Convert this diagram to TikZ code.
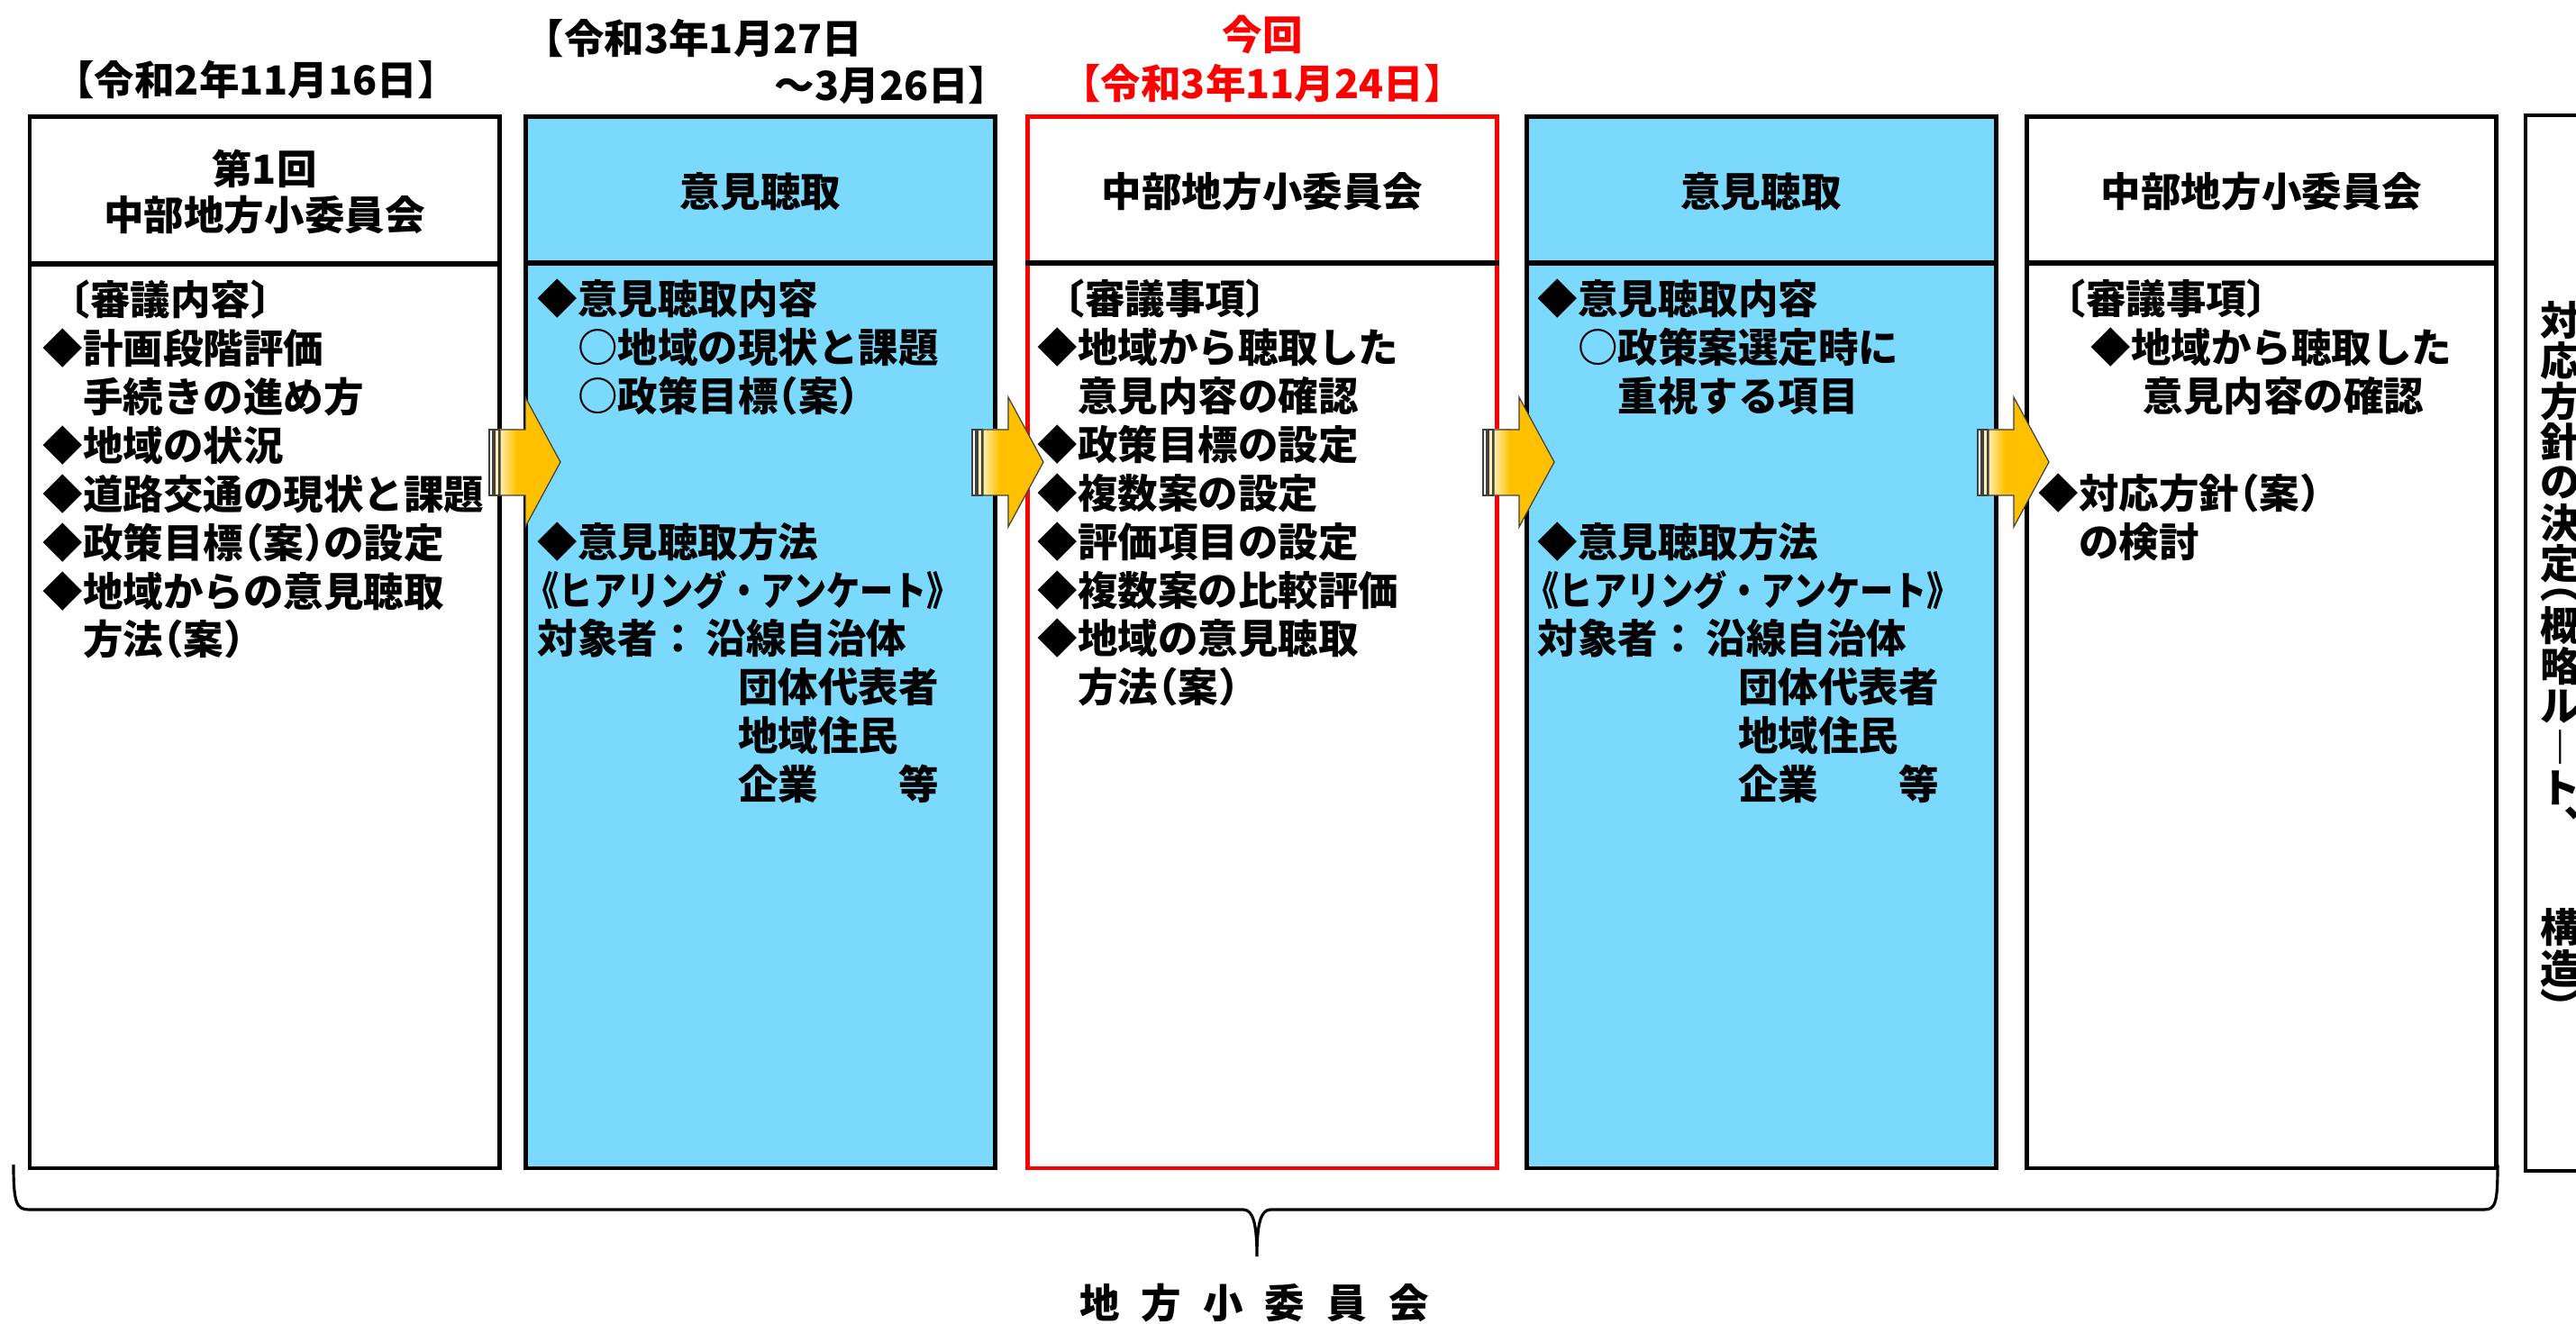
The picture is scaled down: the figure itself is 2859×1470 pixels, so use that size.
\documentclass[tikz,border=0pt]{standalone}
\usepackage{fontspec}
\setmainfont{Noto Sans CJK JP}
\usepackage{graphicx}
\newlength\pxu \setlength\pxu{0.01cm}
\newcommand\jfs{\fontsize{12.66pt}{15.31pt}\selectfont\bfseries}
\newcommand\lp{\makebox[0.5em][r]{（}}
\newcommand\rp{\makebox[0.5em][l]{）}}
\definecolor{skyb}{RGB}{122,217,252}
\definecolor{arrowY}{RGB}{255,192,0}
\definecolor{arrowL}{RGB}{255,238,175}
\definecolor{redc}{RGB}{255,0,0}
\tikzset{
  panel/.style={draw=black, line width=1.42pt, minimum width=521\pxu, minimum height=1167\pxu, inner sep=0pt},
  divider/.style={draw=black, line width=1.7pt},
  txt/.style={inner sep=0pt, font=\jfs},
  body/.style={txt, anchor=base west, align=left, text width=520\pxu},
  arrowline/.style={draw=black!75, line width=0.35pt},
}
\begin{document}
\begin{tikzpicture}[x=0.01cm,y=-0.01cm]
\useasboundingbox (0,0) rectangle (2859,1470);
\clip (0,0) rectangle (2859,1470);
\fill[white] (0,0) rectangle (2859,1470);

% panels
\node[panel, fill=white] (p1) at (293.5,713.5) {};
\node[panel, fill=skyb] (p2) at (844,713.5) {};
\node[panel, fill=white, draw=redc] (p3) at (1401,713.5) {};
\node[panel, fill=skyb] (p4) at (1954.5,713.5) {};
\node[panel, fill=white] (p5) at (2510,713.5) {};
\node[panel, fill=white, minimum width=200\pxu, minimum height=1172\pxu, line width=1.2pt] (p6) at (2903,714) {};

% header dividers
\draw[divider] (p1.west |- 0,293) -- (p1.east |- 0,293);
\draw[divider] (p2.west |- 0,292) -- (p2.east |- 0,292);
\draw[divider] (p3.west |- 0,292) -- (p3.east |- 0,292);
\draw[divider] (p4.west |- 0,292) -- (p4.east |- 0,292);
\draw[divider] (p5.west |- 0,292) -- (p5.east |- 0,292);

% top labels
\node[txt] (d1) at (284,88) {【令和2年11月16日】};
\node[txt, anchor=west] (d2a) at (581,42) {【令和3年1月27日};
\node[txt, anchor=east] (d2b) at (1120,95) {～3月26日】};
\node[txt, text=redc] (now) at (1401,38) {今回};
\node[txt, text=redc] (d3) at (1401,92) {【令和3年11月24日】};

% headers
\node[txt, align=center] (h1) at (293.5,213.5) {第1回\\[-0.8pt]中部地方小委員会};
\node[txt] (h2) at (844,213) {意見聴取};
\node[txt] (h3) at (1401,213) {中部地方小委員会};
\node[txt] (h4) at (1954.5,213) {意見聴取};
\node[txt] (h5) at (2510,213) {中部地方小委員会};

% bodies
\node[body] (t1) at (47,350) {%
\hspace*{8\pxu}〔審議内容〕\\
◆計画段階評価\\
　手続きの進め方\\
◆地域の状況\\
◆道路交通の現状と課題\\
◆政策目標\lp 案\rp の設定\\
◆地域からの意見聴取\\
　方法\lp 案\rp};

\node[body] (t2) at (596,349) {%
◆意見聴取内容\\
　○地域の現状と課題\\
　○政策目標\lp 案\rp\\
\mbox{}\\
\mbox{}\\
◆意見聴取方法\\
\hspace*{-13\pxu}\scalebox{0.836}[1]{《ヒアリング・アンケート》}\\
対象者：\hspace*{9\pxu}沿線自治体\\
　　　　　団体代表者\\
　　　　　地域住民\\
　　　　　企業　　等};

\node[body] (t3) at (1151,349) {%
\hspace*{8\pxu}〔審議事項〕\\
◆地域から聴取した\\
　意見内容の確認\\
◆政策目標の設定\\
◆複数案の設定\\
◆評価項目の設定\\
◆複数案の比較評価\\
◆地域の意見聴取\\
　方法\lp 案\rp};

\node[body] (t4) at (1706,349) {%
◆意見聴取内容\\
　○政策案選定時に\\
　　重視する項目\\
\mbox{}\\
\mbox{}\\
◆意見聴取方法\\
\hspace*{-13\pxu}\scalebox{0.836}[1]{《ヒアリング・アンケート》}\\
対象者：\hspace*{9\pxu}沿線自治体\\
　　　　　団体代表者\\
　　　　　地域住民\\
　　　　　企業　　等};

\node[body] (t5) at (2262,349) {%
\hspace*{8\pxu}〔審議事項〕\\
\hspace*{58\pxu}◆地域から聴取した\\
\hspace*{116\pxu}意見内容の確認\\
\mbox{}\\
◆対応方針\lp 案\rp\\
　の検討};

% vertical text in panel 6
\foreach \c/\yy [count=\i] in {対/356,応/401,方/446,針/491,の/536,決/581,定/626,︵/661,概/695,略/740,ル/785,︱/830,ト/875,︑/915,構/1030,造/1075,︶/1117}
  \node[txt] (v\i) at (2842,\yy) {\c};

% arrows
\foreach \s in {543,1079,1646,2195} {
  \fill[arrowY] (\s+12,477) -- (\s+40,477) -- (\s+40,441) -- (\s+79,513) -- (\s+40,585) -- (\s+40,550) -- (\s+12,550) -- cycle;
  \shade[left color=arrowL, right color=arrowY] (\s+12,477) rectangle (\s+30,550);
  \draw[arrowline] (\s+12,477) -- (\s+40,477) -- (\s+40,441) -- (\s+79,513) -- (\s+40,585) -- (\s+40,550) -- (\s+12,550) -- cycle;
  \draw[arrowline, fill=white] (\s,477) rectangle (\s+4,550);
  \draw[arrowline, fill=arrowL] (\s+6,477) rectangle (\s+11,550);
}

% brace
\coordinate (bl) at (15,1293);
\coordinate (bm) at (1395,1395);
\coordinate (br) at (2772,1293);
\draw[line width=0.9pt] (bl) .. controls (15,1335) and (18,1343) .. (32,1343) -- (1380,1343)
  .. controls (1391,1343) and (1395,1360) .. (bm)
  .. controls (1395,1360) and (1399,1343) .. (1410,1343) -- (2757,1343)
  .. controls (2770,1343) and (2772,1335) .. (br);
\node[txt] (bottom) at (1392,1447) {地\hspace{24\pxu}方\hspace{24\pxu}小\hspace{24\pxu}委\hspace{24\pxu}員\hspace{24\pxu}会};
\end{tikzpicture}
\end{document}
